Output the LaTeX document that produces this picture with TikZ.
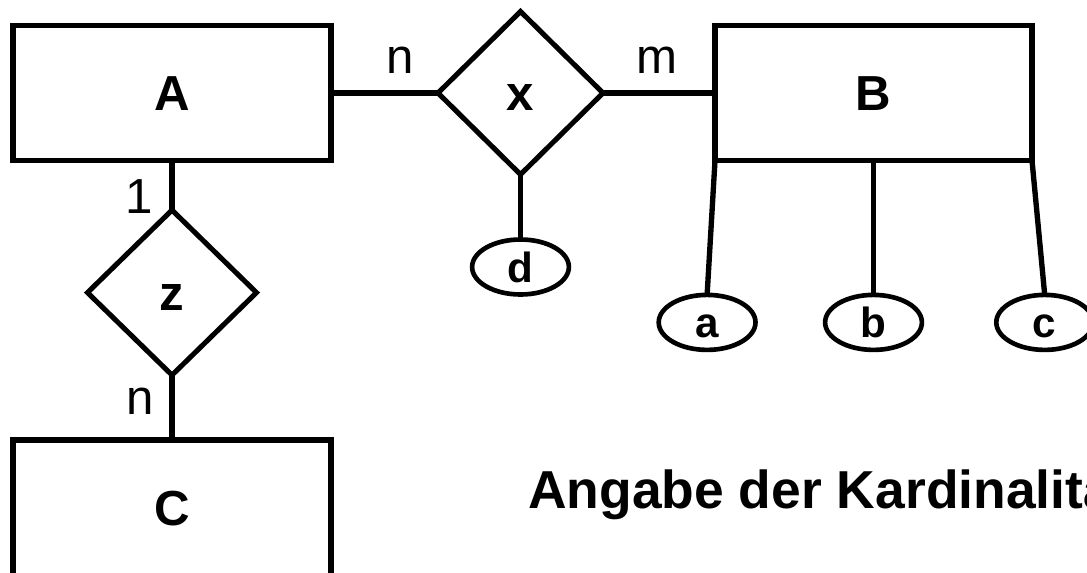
\documentclass[tikz,border=0pt]{standalone}
\usepackage{fontspec}
\setmainfont{Liberation Sans}
\usepackage{tikz}
\usetikzlibrary{shapes.geometric,positioning}

\begin{document}
\begin{tikzpicture}[
  ent/.style={rectangle,draw,line width=4pt,outer sep=0pt,inner sep=0pt,
              font=\fontsize{35}{42}\selectfont\bfseries,text height=25pt,text depth=0pt,
              minimum width=7.95cm,minimum height=3.375cm},
  rel/.style={diamond,draw,line width=3.6pt,outer sep=0pt,inner sep=0pt,aspect=1,
              font=\fontsize{35}{42}\selectfont\bfseries,text height=25pt,text depth=0pt},
  att/.style={ellipse,draw,line width=3.3pt,outer sep=0pt,inner sep=0pt,
              font=\fontsize{30}{36}\selectfont\bfseries,text height=21.5pt,text depth=0pt,
              minimum width=2.42cm,minimum height=1.375cm},
  card/.style={font=\fontsize{35}{42}\selectfont,inner sep=0pt},
  con/.style={line width=3.8pt},
  ttl/.style={font=\fontsize{38}{46}\selectfont\bfseries,inner sep=0pt}
]
\useasboundingbox (0,0) rectangle (27.175,-14.325);
\clip (0,0) rectangle (27.175,-14.325);

% Entitaeten und Beziehungen
\node[ent] (A) at (4.3,-2.325) {A};
\node[rel,minimum width=4.125cm,minimum height=4.075cm,right=2.675cm of A] (x) {x};
\node[ent,minimum width=7.925cm,right=2.8cm of x] (B) {B};
\node[rel,minimum width=4.225cm,minimum height=4.125cm,below=1.24cm of A] (z) {z};
\node[ent,minimum height=3.4cm,below=1.625cm of z] (C) {C};

% Attribute
\node[att,below=1.625cm of x] (d) {d};
\node[att,below=3.36cm of B] (b) {b};
\node[att,left=1.74cm of b] (a) {a};
\node[att,right=1.86cm of b] (c) {c};

\draw[con] (A) -- node[card,pos=0.65,yshift=0.825cm]{n} (x);
\draw[con] (x) -- node[card,pos=0.48,yshift=0.825cm]{m} (B);
\draw[con] (A.south) -- node[card,pos=0.72,xshift=-0.825cm]{1} (z.north);
\draw[con] (z.south) -- node[card,pos=0.4,xshift=-0.8cm]{n} (C.north);
\draw[con] (x.south) -- (d.north);
\draw[con] (B.south west) -- (a.north);
\draw[con] (B.south) -- (b.north);
\draw[con] (B.south east) -- (c.north);

% Titel
\node[ttl,anchor=base west] (titel) at (13.2,-12.7) {Angabe der Kardinalitäten};
\end{tikzpicture}
\end{document}
